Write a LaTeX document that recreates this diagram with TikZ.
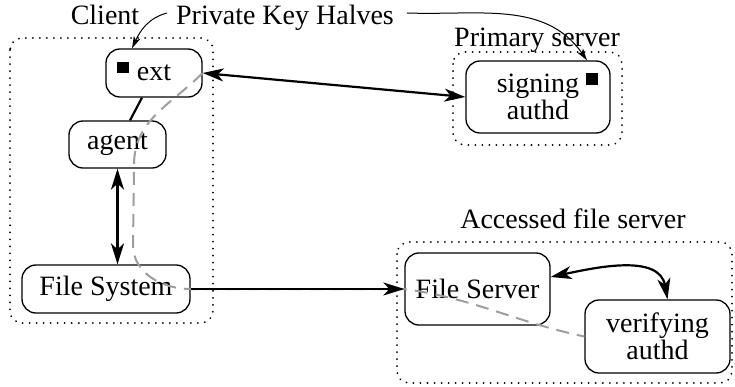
\documentclass[tikz,border=0pt]{standalone}
\usepackage{fontspec}
\setmainfont{Liberation Serif}
\usetikzlibrary{arrows.meta}
\tikzset{
  bigtip/.tip={Stealth[length=21pt,width=13pt,inset=6pt]},
  thintip/.tip={Stealth[length=12pt,width=7pt,inset=3pt]}
}
\begin{document}
\begin{tikzpicture}[x=1pt,y=1pt,
  box/.style={draw, rounded corners=14pt, line width=1.3pt, inner sep=0pt, align=center,
              font=\fontsize{28}{25}\selectfont},
  lbl/.style={inner sep=0pt, font=\fontsize{28}{26}\selectfont, anchor=base},
  grp/.style={draw, line width=2pt, line cap=round, dash pattern=on 0.01pt off 7pt, rounded corners=12pt},
  bigline/.style={line width=2.2pt},
  thinline/.style={line width=1pt},
  trail/.style={draw=black!38, line width=2pt, dash pattern=on 13pt off 8pt}
]
\useasboundingbox (0,0) rectangle (735,-387);

% group boxes
\draw[grp] (10,-38) rectangle (213,-323);
\draw[grp] (453,-52) rectangle (622,-145);
\draw[grp] (397,-242) rectangle (732,-383);

% group labels
\node[lbl] (client) at (105,-25) {Client};
\node[lbl] (pkh) at (285,-25) {Private Key Halves};
\node[lbl] (prim) at (537,-47) {Primary server};
\node[lbl] (acc) at (573,-228) {Accessed file server};

% nodes
\node[box, minimum width=96pt, minimum height=48pt] (ext) at (154,-73) {\raisebox{-4pt}{ext}};
\node[box, minimum width=97pt, minimum height=47pt] (agent) at (117.5,-144.5) {agent};
\node[box, minimum width=168pt, minimum height=48pt] (fs) at (106,-289) {File System};
\node[box, minimum width=144pt, minimum height=72pt] (sign) at (538,-97) {signing\\authd};
\node[box, minimum width=145pt, minimum height=72pt] (fsrv) at (477.5,-289) {File Server};
\node[box, minimum width=145pt, minimum height=73pt] (ver) at (657.5,-336.5) {verifying\\authd};

% key squares
\fill (117,-62) rectangle (129,-73);
\fill (586,-73) rectangle (598,-85);

% gray dashed trail
\draw[trail] (ext.east) to[out=225, in=90] (134,-165) -- (133,-245)
  to[out=-90, in=180] (fs.east) -- (fsrv.west) to[out=-8, in=168] (ver.west);

% connectors
\draw[bigline] ([xshift=-12pt]ext.south) -- ([xshift=12.5pt]agent.north);
\draw[bigline, bigtip-bigtip] (ext.east) -- (sign.west);
\draw[bigline, bigtip-bigtip] (agent.south) -- (agent.south |- fs.north);
\draw[bigline, -bigtip] (fs.east) -- (fsrv.west);
\draw[bigline, bigtip-bigtip] ([yshift=12pt]fsrv.east) to[out=12, in=100] ([xshift=10pt]ver.north);

% key-half pointers
\coordinate (pkL) at (167,-13);
\coordinate (pkR) at (407,-13);
\draw[thinline, -thintip] (pkL) to[out=195, in=65] ([xshift=-22pt]ext.north);
\draw[thinline, -thintip] (pkR) to[out=-2, in=125] ([xshift=49pt]sign.north);
\end{tikzpicture}
\end{document}
